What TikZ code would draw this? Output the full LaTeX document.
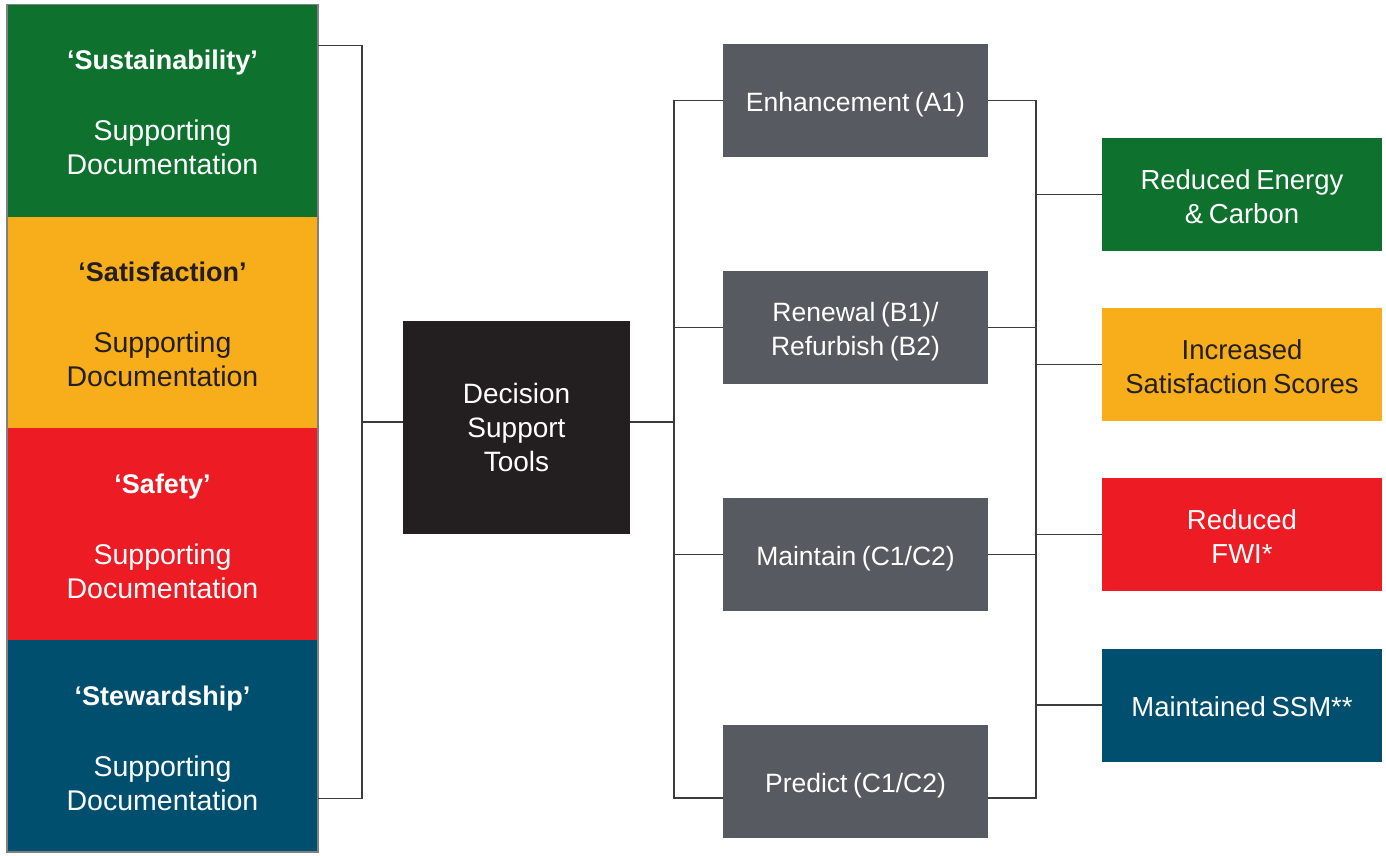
\documentclass[tikz,border=0pt]{standalone}
\usepackage{fontspec}
\setmainfont{Liberation Sans}[WordSpace=0.75]
\usetikzlibrary{positioning}

\definecolor{sgreen}{HTML}{0E712E}
\definecolor{syellow}{HTML}{F8AE1A}
\definecolor{sred}{HTML}{ED1C24}
\definecolor{sblue}{HTML}{004F6E}
\definecolor{sgray}{HTML}{575A61}
\definecolor{sdark}{HTML}{231F20}
\definecolor{sline}{HTML}{3C3C3C}

% small strut, pushes a box text a little down
\newcommand{\tstrut}[1]{\rule{0pt}{#1}}

\tikzset{
    box/.style={inner sep=0pt, align=center, text=white,
        font=\fontsize{26.5}{34}\selectfont},
    colbox/.style={box, minimum width=311pt, minimum height=212pt,
        font=\fontsize{28.5}{34}\selectfont},
    toolbox/.style={box, fill=sgray, minimum width=265pt, minimum height=113pt},
    outbox/.style={box, minimum width=280pt, minimum height=113pt,
        font=\fontsize{27.5}{34}\selectfont},
    conn/.style={draw=sline, line width=1.2pt},
}
\newcommand{\coltitle}[1]{\tstrut{24pt}{\fontsize{27}{34}\selectfont\bfseries #1}\\[37pt]Supporting\\Documentation}

\begin{document}
\begin{tikzpicture}[x=1pt,y=-1pt]
            \useasboundingbox (0,0) rectangle (1386,855);
            % left column
            \node[colbox, fill=sgreen] (sus) at (162.5,110.5) {\coltitle{‘Sustainability’}};
            \node[colbox, fill=syellow, text=sdark] (sat) at (162.5,322.5) {\coltitle{‘Satisfaction’}};
            \node[colbox, fill=sred] (saf) at (162.5,534) {\coltitle{‘Safety’}};
            \node[colbox, fill=sblue] (stew) at (162.5,746) {\coltitle{‘Stewardship’}};
            \draw[gray, line width=1.5pt] (sus.north west) rectangle (stew.south east);

            % centre
            \node[box, fill=sdark, minimum width=227pt, minimum height=213pt,
                font=\fontsize{28}{34}\selectfont] (dst) at (516.5,427.5) {Decision\\Support\\Tools};

            % tools
            \node[toolbox] (enh) at (855.5,100.5) {\tstrut{27pt}Enhancement (A1)};
            \node[toolbox] (ren) at (855.5,327.5) {\tstrut{27pt}Renewal (B1)/\\Refurbish (B2)};
            \node[toolbox] (mnt) at (855.5,554.5) {\tstrut{27pt}Maintain (C1/C2)};
            \node[toolbox] (pred) at (855.5,781.5) {\tstrut{27pt}Predict (C1/C2)};

            % outcomes
            \node[outbox, fill=sgreen] (energy) at (1242,194.5) {\tstrut{24pt}Reduced Energy\\\& Carbon};
            \node[outbox, fill=syellow, text=sdark] (score) at (1242,364.5) {\tstrut{24pt}Increased\\Satisfaction Scores};
            \node[outbox, fill=sred] (fwi) at (1242,534.5) {\tstrut{24pt}Reduced\\FWI*};
            \node[outbox, fill=sblue] (ssm) at (1242,705) {\tstrut{24pt}Maintained SSM**};

            \coordinate (lbr) at (362,422);
            \coordinate (mbr) at (674,422);
            \coordinate (rbr) at (1036,450);

            \draw[conn] ([yshift=-41pt]sus.north east) -| (lbr) |- ([yshift=54pt]stew.south east);
            \draw[conn] (lbr) -- (lbr -| dst.west);
            \draw[conn] (mbr -| dst.east) -- (mbr);
            \draw[conn] (enh.west) -| (mbr) |- ([yshift=-16.5pt]pred.west);
            \draw[conn] (ren.west) -- (ren.west -| mbr);
            \draw[conn] (mnt.west) -- (mnt.west -| mbr);
            \draw[conn] (enh.east) -| (rbr) |- ([yshift=-16.5pt]pred.east);
            \draw[conn] (ren.east) -- (ren.east -| rbr);
            \draw[conn] (mnt.east) -- (mnt.east -| rbr);
            \foreach \o in {energy,score,fwi,ssm}
                \draw[conn] (\o.west -| rbr) -- (\o.west);
        \end{tikzpicture}
\end{document}
